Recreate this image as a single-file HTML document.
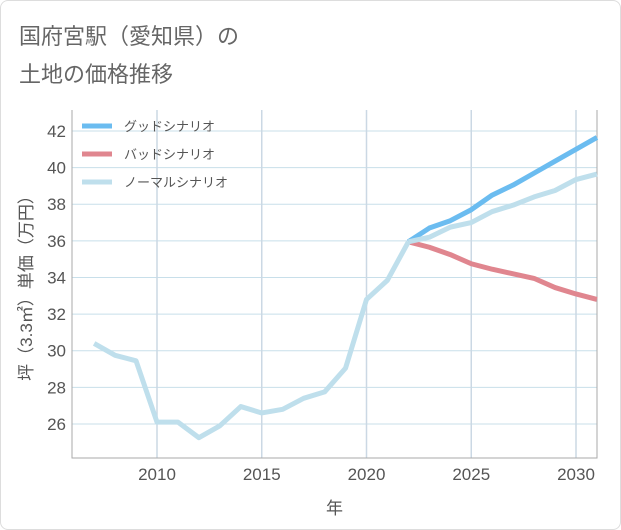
<!DOCTYPE html>
<html><head><meta charset="utf-8"><style>
body{margin:0;background:#fff;font-family:"Liberation Sans","Noto Sans CJK JP",sans-serif}
#wrap{position:relative;width:619px;height:528px;border:1px solid #ddd;border-radius:8px;overflow:hidden}
.title{position:absolute;left:18px;font-size:22px;color:#666}
</style></head><body>
<div id="wrap">
<div class="title" style="top:18px">国府宮駅（愛知県）の</div>
<div class="title" style="top:56px">土地の価格推移</div>
<svg id="chart" width="621" height="530" style="position:absolute;left:-1px;top:-1px"></svg>
</div>
<script>
const years=[2007,2008,2009,2010,2011,2012,2013,2014,2015,2016,2017,2018,2019,2020,2021,2022];
const hist=[30.4,29.75,29.45,26.1,26.1,25.25,25.9,26.95,26.6,26.8,27.4,27.75,29.05,32.8,33.85,35.95];
const fyears=[2022,2023,2024,2025,2026,2027,2028,2029,2030,2031];
const good=[35.95,36.7,37.1,37.7,38.5,39.05,39.7,40.35,41.0,41.65];
const bad=[35.95,35.65,35.25,34.75,34.45,34.2,33.95,33.45,33.1,32.8];
const normal=[35.95,36.2,36.75,37.0,37.6,37.95,38.4,38.75,39.35,39.65];
const yTicks=[26,28,30,32,34,36,38,40,42];
const xTicks=[2010,2015,2020,2025,2030];
const L=72,R=597,T=110,B=458;
const xs=v=>157+(v-2010)*20.95;
const ys=v=>131+(42-v)*18.31;
const svg=document.getElementById('chart');const NS='http://www.w3.org/2000/svg';
function mk(t,a,p){const e=document.createElementNS(NS,t);for(const k in a)e.setAttribute(k,a[k]);(p||svg).appendChild(e);return e;}
for(const v of yTicks){const l=mk('line',{x1:L,x2:R,y1:ys(v),y2:ys(v),stroke:'#c8dfea','stroke-width':1});

const t=mk('text',{x:L-6,y:ys(v)+6,'text-anchor':'end','font-size':17,fill:'#555'});t.textContent=v;
}
for(const v of xTicks){const l=mk('line',{x1:xs(v),x2:xs(v),y1:T,y2:B,stroke:'#cbd8e4','stroke-width':1.5});

const t=mk('text',{x:xs(v),y:B+22,'text-anchor':'middle','font-size':17,fill:'#555'});t.textContent=v;
}
const ax=mk('path',{d:`M${L},${T}V${B}H${R}V${T}`,fill:'none',stroke:'#aaa','stroke-width':1});

function line(xv,yv,c,name){const d=xv.map((x,i)=>(i?'L':'M')+xs(x)+','+ys(yv[i])).join('');
const p=mk('path',{d,fill:'none',stroke:c,'stroke-width':5,'stroke-linejoin':'round'});
}
line(fyears,bad,'#e0868f','bad-scenario-line');
line(fyears,good,'#6bbcf0','good-scenario-line');
line(fyears,normal,'#bfdfec','normal-scenario-line');
line(years,hist,'#bfdfec','historical-line');
const leg=[['グッドシナリオ','#6bbcf0'],['バッドシナリオ','#e0868f'],['ノーマルシナリオ','#bfdfec']];
leg.forEach((e,i)=>{const y=126+i*28;
const l=mk('line',{x1:82,x2:112,y1:y,y2:y,stroke:e[1],'stroke-width':5});

const t=mk('text',{x:124,y:y+5,'font-size':13,fill:'#555'});t.textContent=e[0];
});
const yt=mk('text',{x:0,y:0,'font-size':17,fill:'#555','text-anchor':'middle',transform:`translate(32,${(T+B)/2}) rotate(-90)`});
yt.textContent='坪（3.3㎡）単価（万円）';
const xt=mk('text',{x:(L+R)/2,y:514,'font-size':17,fill:'#555','text-anchor':'middle'});
xt.textContent='年';
</script>
</body></html>
